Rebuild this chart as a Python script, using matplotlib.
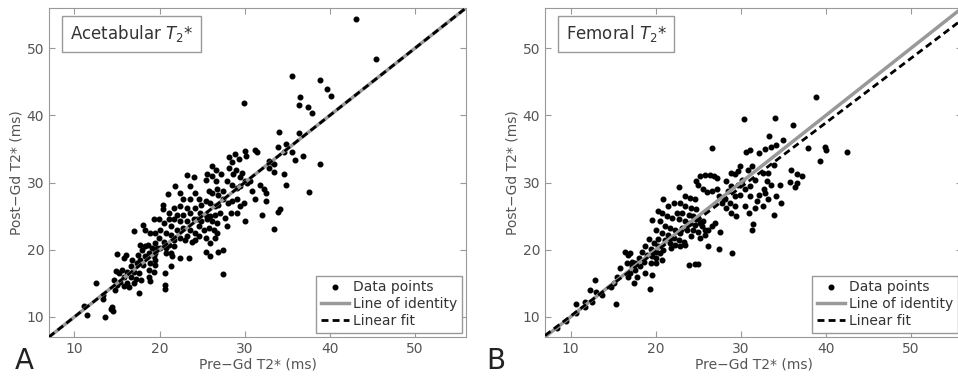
import numpy as np
import matplotlib
matplotlib.use('Agg')
import matplotlib.pyplot as plt

# Pre-Gd / Post-Gd T2* values (ms)
acet_pre = [43.1, 45.4, 35.5, 38.9, 39.7, 40.1, 36.5, 36.4, 37.4, 37.9, 29.9, 34.0, 36.4, 36.8,
            35.9, 38.9, 34.6, 35.5, 34.8, 33.9, 33.5, 33.5, 34.6, 34.9, 37.6, 34.2, 33.9, 33.5,
            32.0, 32.5, 32.3, 32.5, 31.8, 31.2, 31.2, 31.4, 30.0, 30.0, 30.0, 32.8, 32.8, 33.1,
            28.1, 28.5, 28.9, 29.3, 28.1, 28.6, 29.0, 29.4, 29.7, 30.1, 27.9, 28.5, 29.1, 29.5,
            30.3, 30.6, 30.8, 29.1, 28.5, 28.0, 29.5, 29.9, 29.1, 28.4, 27.7, 27.9, 27.4, 26.9,
            27.4, 26.1, 26.6, 27.2, 25.6, 26.1, 26.6, 25.5, 26.8, 26.2, 25.8, 26.9, 27.5, 27.5,
            24.6, 24.9, 25.4, 25.9, 26.5, 26.9, 24.2, 24.8, 25.4, 25.9, 26.5, 27.1, 24.4, 24.9,
            25.6, 26.2, 26.7, 24.6, 25.2, 25.8, 26.4, 26.7, 25.4, 24.6, 25.9, 25.4, 25.9, 26.5,
            21.8, 22.4, 23.2, 24.0, 23.6, 24.2, 22.8, 23.6, 23.2, 22.4, 21.7, 22.1, 22.8, 23.6,
            24.0, 23.2, 22.4, 21.7, 21.1, 21.3, 22.1, 22.8, 23.6, 24.2, 23.2, 22.4, 21.7, 23.0,
            23.8, 24.2, 23.4, 22.4, 21.5, 20.7,
            21.0, 20.4, 20.4, 19.9, 20.5, 21.1, 20.1, 20.7, 21.3, 19.9, 20.5, 21.1, 21.7, 19.5,
            20.1, 20.7, 19.5, 21.3, 21.3, 20.6, 20.6, 20.6, 19.7,
            19.3, 18.9, 18.3, 18.1, 19.5, 18.6, 19.1, 18.3, 18.7, 19.3, 18.3, 19.5, 18.9, 18.1,
            19.5, 18.7, 19.3, 18.7, 18.9, 17.7, 17.5,
            17.0, 15.0, 16.0, 15.8, 16.8, 17.4, 16.6, 15.6, 16.2, 17.0, 17.6, 15.2, 15.8, 16.6,
            17.2, 17.8, 14.6, 15.4, 16.2, 17.0, 15.0, 15.8, 16.4, 17.6, 14.8, 14.9,
            12.5, 13.4, 13.4, 11.1, 11.5, 13.6, 14.4, 14.5, 14.3, 17.9, 17.7]
acet_post = [54.3, 48.4, 45.8, 45.3, 43.9, 42.9, 42.7, 41.6, 41.2, 40.3, 41.9, 37.5, 37.4, 33.9,
             33.4, 32.8, 34.5, 34.6, 35.8, 35.3, 32.8, 31.6, 31.3, 29.7, 28.6, 26.1, 25.6, 23.1,
             25.2, 27.2, 29.1, 28.5, 29.7, 27.5, 34.8, 34.5, 34.7, 30.2, 24.2, 33.2, 32.2, 33.0,
             33.8, 33.0, 34.2, 33.5, 32.2, 31.3, 31.9, 30.9, 31.4, 33.9, 30.2, 29.6, 29.2, 29.5,
             30.0, 30.2, 28.7, 27.5, 27.2, 26.9, 26.5, 27.0, 25.5, 25.5, 24.7, 23.5, 20.0, 19.7,
             16.4, 32.4, 31.9, 31.2, 31.2, 31.0, 30.2, 30.4, 29.0, 28.5, 28.7, 28.2, 28.7, 27.5,
             27.5, 26.7, 27.2, 26.9, 26.5, 26.7, 26.2, 25.5, 25.2, 25.0, 25.2, 25.5, 24.5, 24.2,
             24.5, 24.2, 24.0, 23.5, 23.0, 23.2, 23.0, 22.5, 21.7, 22.0, 21.0, 19.7, 19.0, 21.7,
             29.5, 28.5, 31.1, 30.9, 29.5, 28.5, 27.5, 27.5, 26.2, 26.5, 26.2, 25.2, 25.2, 25.5,
             24.5, 24.2, 24.2, 24.5, 25.5, 23.5, 23.0, 23.2, 23.0, 22.5, 22.0, 21.7, 21.5, 21.5,
             21.2, 21.5, 18.7, 18.7, 19.0, 20.2,
             28.3, 26.7, 26.0, 24.5, 24.0, 24.5, 23.0, 22.5, 22.2, 21.7, 21.2, 20.7, 20.5, 21.0,
             20.2, 19.5, 19.5, 19.5, 17.6, 16.5, 14.7, 14.2, 20.2,
             24.5, 22.5, 23.0, 23.7, 22.5, 20.7, 20.2, 20.5, 19.5, 19.0, 19.0, 18.5, 18.0, 17.7,
             17.7, 17.0, 16.7, 16.0, 15.4, 18.5, 19.2,
             22.8, 19.4, 19.2, 18.7, 18.5, 18.0, 17.5, 17.0, 16.7, 16.7, 16.5, 16.5, 16.0, 16.0,
             15.7, 15.5, 15.5, 15.2, 15.1, 15.0, 14.7, 14.6, 14.5, 13.6, 14.0, 16.9,
             15.0, 13.2, 12.6, 11.6, 10.3, 10.0, 11.5, 10.9, 11.2, 20.0, 20.7]

fem_pre = [38.8, 30.4, 34.0, 36.1, 33.3, 35.0, 34.1, 33.5, 32.8, 39.9, 40.0, 42.5, 37.9, 39.3,
           30.6, 31.1, 32.1, 26.6, 35.9, 36.6, 37.2, 35.8, 36.4, 36.6, 34.7, 33.9, 33.2, 32.6,
           31.3, 31.4, 31.0, 30.5, 33.9, 33.2, 32.6, 33.1, 32.7, 33.6, 34.6, 34.2, 32.8, 31.9,
           31.7, 32.1, 31.1, 31.3, 30.8, 31.7, 31.1, 30.1, 30.5, 29.7, 29.9, 28.9, 29.3, 28.5,
           28.1, 28.7, 29.3, 28.3, 27.8, 27.4, 28.9, 29.5, 27.6, 27.4, 29.0, 26.2, 26.6, 27.0,
           26.2, 25.0, 24.6, 23.9,
           24.8, 25.2, 25.8, 26.4, 26.8, 27.2, 25.0, 25.6, 26.0, 26.6, 27.2,
           22.7, 23.5, 24.0, 24.6, 22.9, 23.5, 24.2, 24.8, 23.1, 23.9, 24.4, 25.0, 22.7, 23.5,
           24.0, 24.6, 25.2, 25.6, 23.1, 23.7, 24.4, 25.0, 25.8, 24.2, 25.2, 25.8, 24.8, 25.4,
           20.9, 21.5, 22.1, 20.7, 21.3, 21.9, 22.5, 20.5, 21.1, 21.7, 22.3, 22.9, 21.5, 22.1,
           22.7, 23.3, 22.3, 22.9, 23.5, 21.7, 21.1, 20.7, 20.3, 21.8,
           20.3, 19.6, 20.1, 19.2, 19.8, 20.3, 20.9, 18.8, 19.4, 20.0, 20.5, 18.4, 19.0, 19.6,
           20.1, 20.7, 18.0, 18.6, 19.4, 20.0, 17.6, 18.8, 19.6, 19.3,
           16.4, 16.8, 17.0, 16.6, 17.2, 17.6, 17.0, 16.8, 17.4, 17.8, 18.2, 17.2,
           15.8, 15.5, 15.1, 14.7, 12.9, 12.3, 13.0, 13.7, 12.5, 11.7, 10.6, 11.7, 10.6, 9.5,
           8.4, 15.3,
           29.9, 29.3, 28.9, 28.3, 29.7]
fem_post = [42.7, 39.5, 39.6, 38.6, 36.9, 36.3, 35.6, 35.3, 35.0, 35.3, 34.9, 34.6, 35.1, 33.2,
            34.6, 34.8, 34.4, 35.2, 31.8, 31.2, 31.0, 30.1, 29.4, 30.0, 26.9, 25.2, 27.6, 26.5,
            23.0, 23.9, 25.5, 26.5, 32.6, 31.4, 31.4, 30.2, 29.0, 29.7, 29.7, 28.0, 28.5, 27.2,
            26.2, 28.2, 28.0, 32.4, 31.9, 30.4, 29.5, 30.4, 29.0, 29.7, 28.2, 29.5, 28.0, 28.7,
            27.5, 27.0, 26.5, 26.2, 27.0, 28.0, 25.5, 25.0, 22.7, 20.1, 19.5, 23.0, 23.5, 24.0,
            20.6, 17.8, 17.8, 17.7,
            30.3, 31.0, 31.1, 31.1, 31.0, 30.7, 29.7, 29.0, 28.6, 28.7, 29.0,
            29.3, 28.0, 27.7, 27.5, 27.0, 26.5, 26.2, 26.0, 25.5, 25.2, 25.0, 24.7, 24.5, 24.2,
            24.0, 23.7, 24.0, 24.2, 23.2, 23.0, 23.0, 22.7, 23.0, 22.0, 21.7, 22.2, 24.5, 23.5,
            27.5, 26.5, 27.0, 25.5, 25.0, 24.7, 25.5, 24.2, 23.5, 23.2, 23.0, 22.5, 22.2, 21.7,
            21.5, 21.2, 20.7, 20.5, 20.7, 21.0, 21.5, 22.5, 21.6, 20.2,
            25.7, 24.4, 23.0, 21.6, 21.0, 20.5, 20.0, 20.5, 20.1, 19.7, 19.5, 19.7, 19.2, 19.0,
            18.7, 18.5, 18.7, 18.2, 18.0, 18.0, 18.0, 16.6, 16.2, 14.1,
            19.7, 19.2, 19.5, 18.0, 17.5, 17.0, 16.5, 16.0, 15.0, 16.0, 17.5, 18.2,
            17.2, 16.0, 15.0, 14.4, 15.5, 14.0, 13.7, 13.2, 12.2, 12.2, 11.9, 11.5, 10.5, 9.4,
            8.3, 11.9,
            32.4, 31.2, 31.4, 30.2, 31.7]

# linear fit coefficients (slope, intercept)
acet_fit = (1.0, 0.0)
fem_fit = (0.96, 0.5)

labels = ['A', 'B']
titles = ['Acetabular $T_2$*', 'Femoral $T_2$*']
lims = (7, 56)
ticks = [10, 20, 30, 40, 50]

gray_txt = '#555555'
plt.rcParams['font.family'] = 'DejaVu Sans'

fig = plt.figure(figsize=(9.58, 3.8), dpi=100)
ax_a = fig.add_axes([0.0511, 0.1132, 0.4353, 0.8658])
ax_b = fig.add_axes([0.5689, 0.1132, 0.4353, 0.8658])

panels = [(ax_a, acet_pre, acet_post, acet_fit),
          (ax_b, fem_pre, fem_post, fem_fit)]

for i, (ax, pre, post, fit) in enumerate(panels):
    xs = np.array(lims, dtype=float)
    ax.plot(pre, post, 'o', color='k', ms=3.3, ls='none', label='Data points', zorder=3)
    ax.plot(xs, xs, color='#999999', lw=2.5, label='Line of identity', zorder=4)
    ax.plot(xs, fit[0] * xs + fit[1], color='k', lw=2, ls=(0, (2.5, 1.5)),
            label='Linear fit', zorder=5)
    ax.set_xlim(lims)
    ax.set_ylim(lims)
    ax.set_xticks(ticks)
    ax.set_yticks(ticks)
    ax.tick_params(direction='in', top=True, right=True, length=4, color='#999999',
                   labelcolor=gray_txt, labelsize=10)
    for s in ax.spines.values():
        s.set_color('#999999')
    ax.set_xlabel('Pre\u2212Gd T2* (ms)', color=gray_txt, fontsize=10, labelpad=1)
    ax.set_ylabel('Post\u2212Gd T2* (ms)', color=gray_txt, fontsize=10, labelpad=2)
    ax.text(0.05, 0.953, titles[i], transform=ax.transAxes, ha='left', va='top',
            fontsize=12, color='#333333',
            bbox=dict(boxstyle='square,pad=0.45', fc='white', ec='#999999'))
    leg = ax.legend(loc='lower right', fontsize=10, fancybox=False, numpoints=1,
                    handlelength=2.0, handletextpad=0.3, borderpad=0.35, labelspacing=0.2,
                    borderaxespad=0.3, framealpha=1)
    leg.get_frame().set_edgecolor('#999999')
    for t in leg.get_texts():
        t.set_color('#333333')

fig.text(0.015, 0.03, labels[0], fontsize=20, color='#222222')
fig.text(0.508, 0.03, labels[1], fontsize=20, color='#222222')

fig.savefig('out.png', dpi=100)
